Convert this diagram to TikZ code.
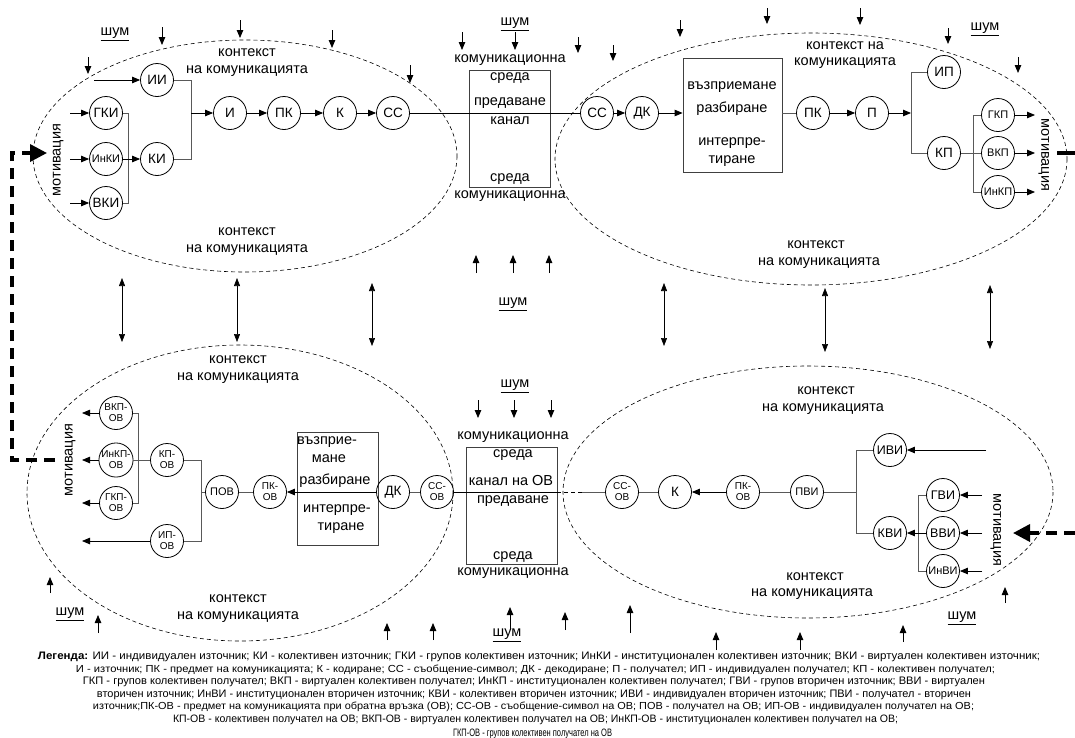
\documentclass[tikz,border=0pt]{standalone}
\usepackage{fontspec}
\setmainfont{Liberation Sans}
\usetikzlibrary{arrows.meta}
\begin{document}
\begin{tikzpicture}[x=1pt,y=-1pt,
  circ/.style={circle,draw,line width=0.8pt,minimum size=33pt,inner sep=0pt,font=\fontsize{13.5}{13.5}\selectfont},
  circt/.style={circ,font=\fontsize{12.5}{12.5}\selectfont},
  circm/.style={circ,font=\fontsize{11}{11}\selectfont},
  circs/.style={circ,font=\fontsize{10}{11}\selectfont,align=center},
  txt/.style={font=\fontsize{14.5}{17}\selectfont,inner sep=0pt,text height=1ex,text depth=0pt},
  ell/.style={dash pattern=on 4pt off 3pt,line width=0.6pt},
  arr/.style={-{Triangle[length=8pt,width=6.5pt]},line width=0.8pt},
  darr/.style={{Triangle[length=8pt,width=6pt]}-{Triangle[length=8pt,width=6pt]},line width=0.6pt},
  treeline/.style={line width=0.8pt,black!65},
  fb/.style={line width=3.5pt,dash pattern=on 11pt off 7pt},
  bigtip/.style={-{Triangle[length=17pt,width=17pt]}},
  boxr/.style={draw,line width=0.8pt,black!75,inner sep=0pt},
  legline/.style={inner sep=0pt,anchor=center}
]
\fill[white] (0,0) rectangle (1075,737);
\useasboundingbox (0,0) rectangle (1075,737);

% ellipses
\draw[ell] (245,156) ellipse [x radius=212, y radius=116];
\draw[ell] (811,159) ellipse [x radius=256, y radius=126];
\draw[ell] (240,493) ellipse [x radius=213, y radius=148];
\draw[ell] (808,492) ellipse [x radius=245, y radius=126];

% boxes
\node[boxr,minimum width=81pt,minimum height=117pt] (c1) at (509.5,128.5) {};
\node[boxr,minimum width=99pt,minimum height=114pt] (r1) at (732.5,115) {};
\node[boxr,minimum width=81pt,minimum height=113pt] (r2) at (337.5,488.5) {};
\node[boxr,minimum width=91pt,minimum height=117pt] (c2) at (511.5,505.5) {};

% top-left nodes
\node[circ] (gki) at (106,113) {ГКИ};
\node[circm] (inki) at (106,159) {ИнКИ};
\node[circ] (vki) at (106,203) {ВКИ};
\node[circ] (ii) at (157,80) {ИИ};
\node[circ] (ki) at (157,159) {КИ};
\node[circ] (i) at (230,113) {И};
\node[circ] (pk) at (284,113) {ПК};
\node[circ] (k) at (340,113) {К};
\node[circ] (ss) at (393,113) {СС};

% top-right nodes
\node[circ] (ss2) at (597,113) {СС};
\node[circ] (dk) at (642,113) {ДК};
\node[circ] (pk2) at (813,113) {ПК};
\node[circ] (p) at (872,113) {П};
\node[circ] (ip) at (944,72) {ИП};
\node[circ] (kp) at (944,153) {КП};
\node[circm] (gkp) at (998,115) {ГКП};
\node[circm] (vkp) at (998,153) {ВКП};
\node[circm] (inkp) at (998,192) {ИнКП};

% bottom-left nodes
\node[circs] (vkpov) at (116,413) {ВКП-\\ОВ};
\node[circs] (inkpov) at (116,460) {ИнКП-\\ОВ};
\node[circs] (gkpov) at (116,503) {ГКП-\\ОВ};
\node[circs] (kpov) at (167,460) {КП-\\ОВ};
\node[circs] (ipov) at (167,541) {ИП-\\ОВ};
\node[circm] (pov) at (222,492) {ПОВ};
\node[circs] (pkov) at (270,492) {ПК-\\ОВ};
\node[circ] (dk2) at (393,492) {ДК};
\node[circs] (ssov) at (437,492) {СС-\\ОВ};

% bottom-right nodes
\node[circs] (ssov2) at (622,492) {СС-\\ОВ};
\node[circ] (k2) at (675,492) {К};
\node[circs] (pkov2) at (743,492) {ПК-\\ОВ};
\node[circm] (pvi) at (807,492) {ПВИ};
\node[circt] (ivi) at (890,450) {ИВИ};
\node[circt] (kvi) at (890,533) {КВИ};
\node[circt] (gvi) at (943,495) {ГВИ};
\node[circt] (vvi) at (943,533) {ВВИ};
\node[circm] (invi) at (943,571) {ИнВИ};

% top-left connections
\coordinate (gkiin) at (70,113);
\coordinate (inkiin) at (70,159);
\coordinate (vkiin) at (70,203);
\coordinate (iiin) at (94,80);
\draw[arr] (gkiin) -- (gki);
\draw[arr] (inkiin) -- (inki);
\draw[arr] (vkiin) -- (vki);
\draw[arr] (iiin) -- (ii);
\coordinate (v1t) at (128,113);
\coordinate (v1b) at (128,203);
\draw[treeline] (gki.east) -- (v1t) -- (v1b) -- (vki.east);
\draw[arr] (inki) -- (ki);
\coordinate (v2t) at (191,80);
\coordinate (v2b) at (191,159);
\coordinate (v2m) at (191,113);
\draw[treeline] (ii.east) -- (v2t) -- (v2b) -- (ki.east);
\draw[arr] (v2m) -- (i);
\draw[arr] (i) -- (pk);
\draw[arr] (pk) -- (k);
\draw[arr] (k) -- (ss);
\draw[line width=0.8pt] (ss) -- (ss2);

% top-right connections
\draw[arr] (ss2) -- (dk);
\draw[arr] (dk) -- (dk -| r1.west);
\draw[treeline] (r1.east |- pk2) -- (pk2);
\draw[arr] (pk2) -- (p);
\coordinate (v3m) at (911,113);
\coordinate (v3t) at (911,72);
\coordinate (v3b) at (911,153);
\draw[arr] (p) -- (v3m);
\draw[treeline] (ip.west) -- (v3t) -- (v3b) -- (kp.west);
\coordinate (v4t) at (973,115);
\coordinate (v4b) at (973,192);
\draw[treeline] (kp.east) -- (vkp.west);
\draw[treeline] (gkp.west) -- (v4t) -- (v4b) -- (inkp.west);
\coordinate (gkpo) at (1035,115);
\coordinate (vkpo) at (1035,153);
\coordinate (inkpo) at (1035,192);
\draw[arr] (gkp) -- (gkpo);
\draw[arr] (vkp) -- (vkpo);
\draw[arr] (inkp) -- (inkpo);

% bottom-left connections
\coordinate (vkpovo) at (82,413);
\coordinate (inkpovo) at (82,460);
\coordinate (gkpovo) at (82,503);
\coordinate (ipovo) at (82,541);
\draw[arr] (vkpov) -- (vkpovo);
\draw[arr] (inkpov) -- (inkpovo);
\draw[arr] (gkpov) -- (gkpovo);
\draw[arr] (ipov) -- (ipovo);
\coordinate (v5t) at (138,413);
\coordinate (v5b) at (138,503);
\draw[treeline] (vkpov.east) -- (v5t) -- (v5b) -- (gkpov.east);
\draw[treeline] (inkpov) -- (kpov);
\coordinate (v6t) at (201,460);
\coordinate (v6b) at (201,541);
\coordinate (v6m) at (201,492);
\draw[treeline] (kpov.east) -- (v6t) -- (v6b) -- (ipov.east);
\draw[treeline] (v6m) -- (pov);
\draw[treeline] (pov) -- (pkov);
\draw[arr] (dk2) -- (pkov);
\draw[treeline] (dk2) -- (ssov);
\coordinate (cr) at (557,492);
\coordinate (cd) at (582,492);
\draw[line width=0.8pt] (ssov) -- (cr);
\draw[line width=0.8pt,dash pattern=on 4pt off 3pt] (cr) -- (cd);
\draw[treeline] (cd) -- (ssov2);

% bottom-right connections
\draw[treeline] (ssov2) -- (k2);
\draw[arr] (pkov2) -- (k2);
\draw[treeline] (pvi) -- (pkov2);
\coordinate (v7t) at (856,450);
\coordinate (v7b) at (856,533);
\coordinate (v7m) at (856,492);
\draw[treeline] (pvi) -- (v7m);
\draw[treeline] (ivi.west) -- (v7t) -- (v7b) -- (kvi.west);
\coordinate (v8t) at (918,495);
\coordinate (v8b) at (918,571);
\draw[treeline] (gvi.west) -- (v8t) -- (v8b) -- (invi.west);
\draw[arr] (vvi) -- (kvi);
\coordinate (iviin) at (986,450);
\coordinate (gviin) at (982,495);
\coordinate (vviin) at (982,533);
\coordinate (inviin) at (982,571);
\draw[arr] (iviin) -- (ivi);
\draw[arr] (gviin) -- (gvi);
\draw[arr] (vviin) -- (vvi);
\draw[arr] (inviin) -- (invi);

% feedback dashed arrows
\coordinate (fb1) at (55,460);
\coordinate (fb2) at (12,460);
\coordinate (fb3) at (12,153);
\coordinate (fb4) at (47,153);
\draw[fb,bigtip] (fb1) -- (fb2) -- (fb3) -- (fb4);
\coordinate (fb5) at (1075,533);
\coordinate (fb6) at (1013,533);
\draw[fb,bigtip] (fb5) -- (fb6);
\coordinate (fb7) at (1075,153);
\coordinate (fb8) at (1057,153);
\draw[line width=3.5pt] (fb7) -- (fb8);

% double arrows
\foreach \n/\x/\a/\b in {1/122/278/342,2/237/278/342,3/372/283/346,4/664/283/346,5/825/288/352,6/990/285/349}{
  \coordinate (da\n-a) at (\x,\a);
  \coordinate (da\n-b) at (\x,\b);
  \draw[darr] (da\n-a) -- (da\n-b);
}

% noise arrows
\foreach \n/\x/\a/\b in {1/88/57/74,2/162/27/45,3/240/20/38,4/332/30/48,5/410/65/83,6/462/32/50,7/515/32/50,8/578/37/53,9/613/45/61,10/680/20/37,11/767/8/24,12/860/8/25,13/948/28/44,14/1018/57/73,15/476/273/255,16/513/273/255,17/549/273/255,18/478/400/418,19/514/400/418,20/551/400/418,21/50/593/577,22/98/633/615,23/387/640/623,24/433/640/623,25/510/630/607,26/565/630/612,27/630/633/605,28/716/650/632,29/800/650/632,30/903/642/625,31/1005/603/587}{
  \coordinate (ns\n-a) at (\x,\a);
  \coordinate (ns\n-b) at (\x,\b);
  \draw[arr] (ns\n-a) -- (ns\n-b);
}

% noise labels
\node[txt] (sh1) at (115,33) {\underline{шум}};
\node[txt] (sh2) at (515,23) {\underline{шум}};
\node[txt] (sh3) at (985,28) {\underline{шум}};
\node[txt] (sh4) at (513,303) {\underline{шум}};
\node[txt] (sh5) at (515,385) {\underline{шум}};
\node[txt] (sh6) at (70,613) {\underline{шум}};
\node[txt] (sh7) at (962,617) {\underline{шум}};
\node[txt] (sh8) at (507,634) {\underline{шум}};

% motivation labels
\node[txt,rotate=90] (m1) at (58,160) {мотивация};
\node[txt,rotate=-90] (m2) at (1044,155) {мотивация};
\node[txt,rotate=90] (m3) at (70,460) {мотивация};
\node[txt,rotate=-90] (m4) at (996,530) {мотивация};

% context labels
\node[txt] (tl1) at (247,54) {контекст};
\node[txt] (tl2) at (247,71) {на комуникацията};
\node[txt] (tl3) at (247,233) {контекст};
\node[txt] (tl4) at (247,250) {на комуникацията};
\node[txt] (tr1) at (845,47) {контекст на};
\node[txt] (tr2) at (845,63) {комуникацията};
\node[txt] (tr3) at (816,246) {контекст};
\node[txt] (tr4) at (819,263) {на комуникацията};
\node[txt] (bl1) at (238,361) {контекст};
\node[txt] (bl2) at (238,378) {на комуникацията};
\node[txt] (bl3) at (238,600) {контекст};
\node[txt] (bl4) at (238,617) {на комуникацията};
\node[txt] (br1) at (826,392) {контекст};
\node[txt] (br2) at (823,409) {на комуникацията};
\node[txt] (br3) at (815,578) {контекст};
\node[txt] (br4) at (812,594) {на комуникацията};

% channel texts
\node[txt] (c1a) at (510,60) {комуникационна};
\node[txt] (c1b) at (510,78) {среда};
\node[txt] (c1c) at (510,103) {предаване};
\node[txt] (c1d) at (510,122) {канал};
\node[txt] (c1e) at (510,179) {среда};
\node[txt] (c1f) at (510,196) {комуникационна};
\node[txt] (c2a) at (513,437) {комуникационна};
\node[txt] (c2b) at (513,455) {среда};
\node[txt] (c2c) at (511,483) {канал на ОВ};
\node[txt] (c2d) at (513,501) {предаване};
\node[txt] (c2e) at (513,557) {среда};
\node[txt] (c2f) at (513,573) {комуникационна};

% perception boxes texts
\node[txt] (r1a) at (732,87) {възприемане};
\node[txt] (r1b) at (732,110) {разбиране};
\node[txt] (r1c) at (732,143) {интерпре-};
\node[txt] (r1d) at (732,161) {тиране};
\node[txt] (r2a) at (327,442) {възприе-};
\node[txt] (r2b) at (329,460) {мане};
\node[txt] (r2c) at (335,482) {разбиране};
\node[txt] (r2d) at (337,510) {интерпре-};
\node[txt] (r2e) at (341,528) {тиране};

% legend
\node[legline] (lg1) at (539,657) {\resizebox{1002pt}{7.5pt}{\textbf{Легенда:} ИИ - индивидуален източник; КИ - колективен източник;  ГКИ - групов колективен източник; ИнКИ - институционален  колективен източник; ВКИ - виртуален колективен източник;}};
\node[legline] (lg2) at (535.5,669.5) {\resizebox{919pt}{7.5pt}{И - източник; ПК - предмет на комуникацията; К - кодиране; СС - съобщение-символ; ДК - декодиране; П - получател; ИП - индивидуален получател; КП - колективен получател;}};
\node[legline] (lg3) at (534,682) {\resizebox{902pt}{7.5pt}{ГКП - групов колективен получател; ВКП - виртуален колективен получател;  ИнКП - институционален колективен получател; ГВИ - групов вторичен източник; ВВИ - виртуален}};
\node[legline] (lg4) at (534,694.5) {\resizebox{874pt}{7.5pt}{вторичен източник; ИнВИ - институционален вторичен източник; КВИ - колективен вторичен източник;  ИВИ - индивидуален вторичен източник;   ПВИ - получател - вторичен}};
\node[legline] (lg5) at (533.5,707) {\resizebox{881pt}{7.5pt}{източник;ПК-ОВ - предмет на комуникацията при обратна връзка (ОВ); СС-ОВ - съобщение-символ на ОВ; ПОВ - получател на ОВ; ИП-ОВ - индивидуален получател на ОВ;}};
\node[legline] (lg6) at (535.5,719.5) {\resizebox{725pt}{7.5pt}{КП-ОВ - колективен получател на ОВ; ВКП-ОВ - виртуален колективен получател на ОВ; ИнКП-ОВ - институционален колективен получател на ОВ;}};
\node[legline] (lg7) at (532.5,734) {\resizebox{159pt}{7.5pt}{ГКП-ОВ - групов колективен получател на ОВ}};
\end{tikzpicture}
\end{document}
